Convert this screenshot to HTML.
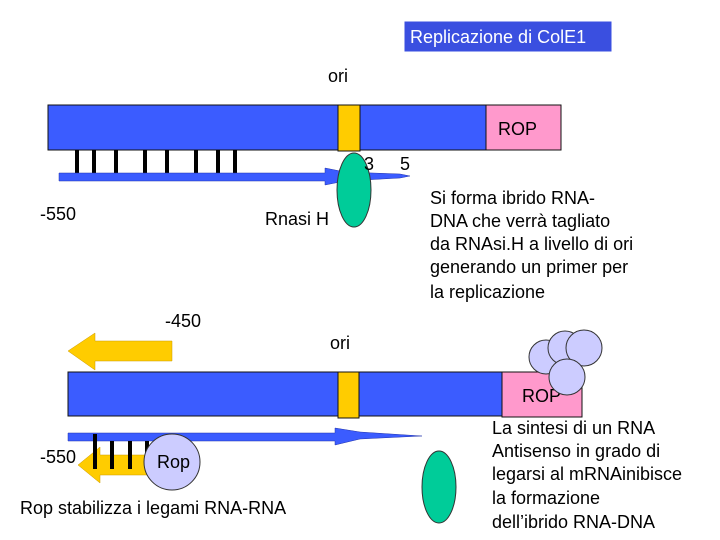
<!DOCTYPE html>
<html><head><meta charset="utf-8"><style>
html,body{margin:0;padding:0;background:#fff;}
svg{display:block;}
text{font-family:"Liberation Sans",sans-serif;font-size:18px;fill:#000;}
</style></head><body>
<svg width="720" height="540" viewBox="0 0 720 540">
<!-- title -->
<rect x="404" y="21" width="208" height="31" fill="#3a4fe0" stroke="#fff" stroke-width="1"/>
<text x="410" y="43" fill="#fff" style="fill:#fff">Replicazione di ColE1</text>
<text x="328" y="82">ori</text>
<!-- top bar -->
<rect x="48" y="105" width="440" height="45" fill="#3b5cff" stroke="#111"/>
<rect x="338" y="105" width="22" height="46" fill="#ffcc00" stroke="#111"/>
<rect x="486" y="105" width="75" height="45" fill="#ff99cc" stroke="#111"/>
<text x="498" y="135">ROP</text>
<g fill="#000">
<rect x="75" y="150" width="4" height="24"/><rect x="92" y="150" width="4" height="24"/><rect x="114" y="150" width="4" height="24"/><rect x="143" y="150" width="4" height="24"/><rect x="165" y="150" width="4" height="24"/><rect x="194" y="150" width="4" height="24"/><rect x="216" y="150" width="4" height="24"/><rect x="233" y="150" width="4" height="24"/>
</g>
<path d="M59,173 L325,173 L325,168 L345,172 L400,174 L410,176 L400,178 L345,181 L325,185 L325,181 L59,181 Z" fill="#3b5cff" stroke="#2233aa" stroke-width="0.5"/>
<ellipse cx="354" cy="190" rx="17" ry="37" fill="#00cc99" stroke="#333"/>
<text x="364" y="170">3</text><text x="400" y="170">5</text>
<text x="40" y="220">-550</text>
<text x="265" y="225">Rnasi H</text>
<text x="430" y="204">Si forma ibrido RNA-</text>
<text x="430" y="227">DNA che verrà tagliato</text>
<text x="430" y="250">da RNAsi.H a livello di ori</text>
<text x="430" y="273">generando un primer per</text>
<text x="430" y="298">la replicazione</text>
<text x="165" y="327">-450</text>
<text x="330" y="349">ori</text>
<!-- yellow arrow -->
<path d="M68,351 L95,333 L95,341 L172,341 L172,361 L95,361 L95,370 Z" fill="#ffcc00" stroke="#c90" stroke-width="0.5"/>
<!-- bottom bar -->
<rect x="68" y="372" width="434" height="44" fill="#3b5cff" stroke="#111"/>
<rect x="338" y="372" width="21" height="46" fill="#ffcc00" stroke="#111"/>
<rect x="502" y="372" width="80" height="45" fill="#ff99cc" stroke="#111"/>
<text x="522" y="402">ROP</text>
<g fill="#ccccff" stroke="#333">
<circle cx="546" cy="357" r="17"/><circle cx="565" cy="348" r="17"/><circle cx="584" cy="348" r="18"/><circle cx="567" cy="377" r="18"/>
</g>
<path d="M68,433 L335,433 L335,428 L360,432 L422,436 L360,439 L335,445 L335,441 L68,441 Z" fill="#3b5cff" stroke="#2233aa" stroke-width="0.5"/>
<path d="M78,465 L100,447 L100,455 L155,455 L155,475 L100,475 L100,483 Z" fill="#ffcc00" stroke="#c90" stroke-width="0.5"/>
<g fill="#000">
<rect x="93" y="434" width="4" height="35"/><rect x="110" y="441" width="4" height="28"/><rect x="128" y="441" width="4" height="28"/><rect x="145" y="441" width="4" height="28"/>
</g>
<circle cx="172" cy="462" r="28" fill="#ccccff" stroke="#333"/>
<text x="157" y="468">Rop</text>
<text x="40" y="463">-550</text>
<text x="20" y="514">Rop stabilizza i legami RNA-RNA</text>
<ellipse cx="439" cy="487" rx="17" ry="36" fill="#00cc99" stroke="#333"/>
<text x="492" y="434">La sintesi di un RNA</text>
<text x="492" y="457">Antisenso in grado di</text>
<text x="492" y="480">legarsi al mRNAinibisce</text>
<text x="492" y="504">la formazione</text>
<text x="492" y="528">dell’ibrido  RNA-DNA</text>
</svg>
</body></html>
